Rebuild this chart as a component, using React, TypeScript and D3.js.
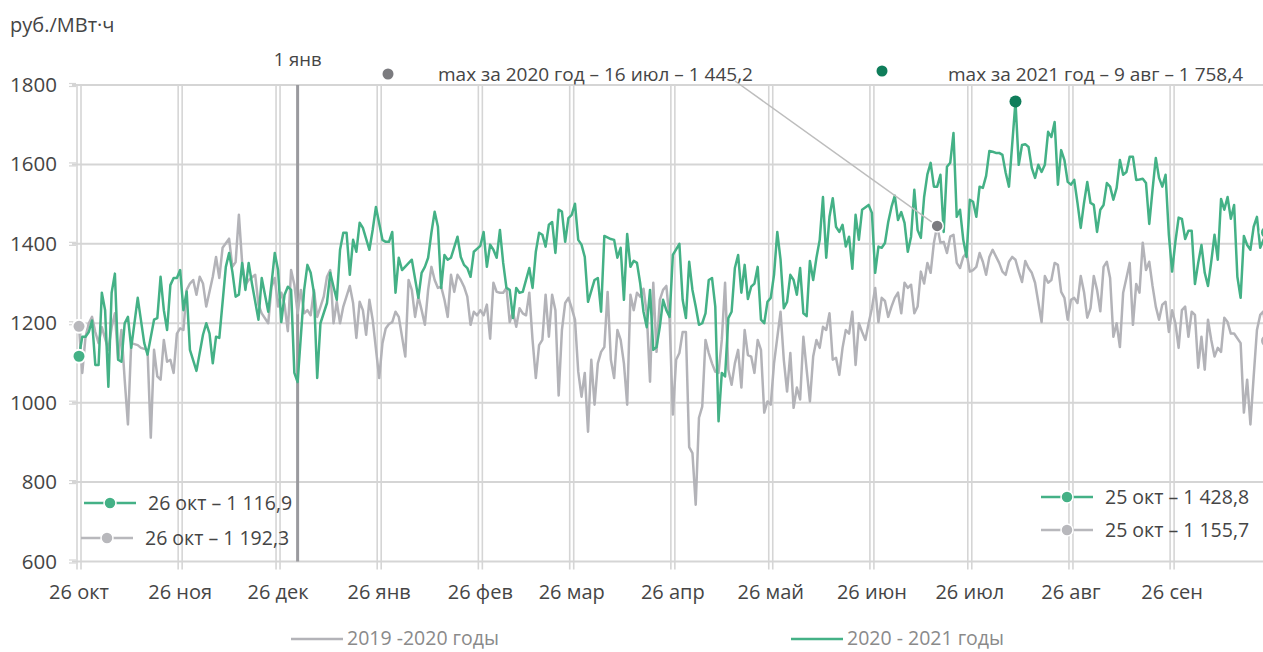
import * as d3 from "d3";

// ── data: day offset from 26 окт 2020, price руб./МВт·ч ──
const monthLabels = ["26 окт", "26 ноя", "26 дек", "26 янв", "26 фев", "26 мар", "26 апр", "26 май", "26 июн", "26 июл", "26 авг", "26 сен"];
const yTicks = [600, 800, 1000, 1200, 1400, 1600, 1800];

// 2020 - 2021 годы
const green: [number, number][] = [
  [0, 1116.9], [1, 1166], [2, 1166], [3, 1178], [4, 1207], [5, 1095], [6, 1095], [7, 1277], [8, 1233], [9, 1040],
  [10, 1277], [11, 1325], [12, 1108], [13, 1103], [14, 1200], [15, 1216], [16, 1138], [18, 1264], [20, 1150], [21, 1121],
  [23, 1209], [24, 1213], [25, 1317], [26, 1233], [27, 1183], [28, 1296], [29, 1314], [30, 1314], [31, 1334], [32, 1233],
  [33, 1280], [34, 1133], [36, 1080], [38, 1171], [39, 1200], [40, 1174], [41, 1099], [42, 1166], [43, 1163], [45, 1342],
  [46, 1377], [47, 1330], [48, 1267], [49, 1272], [50, 1352], [51, 1284], [52, 1352], [53, 1300], [55, 1209], [56, 1314],
  [58, 1229], [59, 1300], [60, 1377], [61, 1334], [62, 1203], [63, 1272], [64, 1292], [65, 1284], [66, 1075], [67, 1052],
  [69, 1284], [70, 1347], [71, 1327], [72, 1277], [73, 1062], [74, 1200], [76, 1251], [77, 1327], [78, 1292], [79, 1259],
  [80, 1385], [81, 1428], [82, 1428], [83, 1322], [84, 1410], [85, 1380], [86, 1453], [87, 1440], [89, 1385], [90, 1435],
  [91, 1493], [93, 1410], [94, 1405], [95, 1405], [96, 1430], [97, 1277], [98, 1365], [99, 1334], [102, 1360], [104, 1264],
  [105, 1327], [106, 1342], [107, 1365], [108, 1428], [109, 1481], [110, 1443], [111, 1289], [112, 1372], [113, 1360], [114, 1365],
  [116, 1418], [117, 1367], [118, 1347], [119, 1339], [120, 1317], [121, 1380], [123, 1395], [124, 1430], [125, 1342], [126, 1398],
  [127, 1385], [128, 1365], [129, 1435], [130, 1352], [131, 1289], [132, 1284], [133, 1213], [134, 1289], [135, 1277], [136, 1279],
  [138, 1339], [139, 1289], [140, 1380], [141, 1428], [142, 1423], [143, 1393], [144, 1448], [145, 1455], [146, 1377], [147, 1486],
  [148, 1481], [149, 1405], [150, 1465], [151, 1473], [152, 1501], [153, 1410], [154, 1398], [155, 1367], [156, 1254], [158, 1309],
  [159, 1314], [160, 1229], [161, 1420], [163, 1412], [164, 1410], [165, 1365], [166, 1390], [167, 1259], [168, 1425], [169, 1342],
  [170, 1357], [171, 1352], [172, 1300], [173, 1229], [174, 1190], [175, 1284], [176, 1133], [177, 1140], [178, 1191], [179, 1259],
  [180, 1233], [181, 1216], [182, 1372], [184, 1400], [185, 1259], [186, 1213], [187, 1355], [188, 1284], [189, 1242], [190, 1196],
  [191, 1200], [192, 1225], [193, 1309], [194, 1314], [195, 1242], [196, 953], [197, 1075], [198, 1066], [199, 1213], [200, 1229],
  [201, 1339], [202, 1372], [203, 1277], [204, 1347], [205, 1261], [206, 1292], [207, 1300], [208, 1342], [209, 1209], [210, 1200],
  [211, 1254], [212, 1264], [213, 1322], [214, 1430], [215, 1360], [216, 1238], [217, 1254], [218, 1322], [219, 1309], [220, 1272],
  [221, 1339], [222, 1225], [223, 1218], [224, 1357], [225, 1309], [226, 1365], [227, 1410], [228, 1518], [229, 1365], [230, 1468],
  [231, 1515], [232, 1443], [233, 1430], [234, 1448], [235, 1393], [236, 1418], [237, 1337], [238, 1473], [239, 1410], [240, 1486],
  [242, 1498], [243, 1478], [244, 1327], [245, 1393], [246, 1390], [247, 1402], [248, 1455], [249, 1493], [250, 1521], [251, 1460],
  [252, 1480], [253, 1453], [254, 1380], [255, 1418], [256, 1536], [257, 1435], [258, 1415], [259, 1518], [260, 1575], [261, 1604],
  [262, 1544], [263, 1544], [264, 1574], [265, 1430], [266, 1594], [267, 1604], [268, 1679], [269, 1468], [270, 1486], [271, 1410],
  [272, 1367], [273, 1511], [274, 1506], [275, 1468], [276, 1544], [277, 1541], [278, 1571], [279, 1634], [280, 1632], [281, 1629],
  [282, 1629], [283, 1624], [284, 1579], [285, 1544], [287, 1758.4], [288, 1599], [289, 1649], [290, 1651], [291, 1644], [292, 1591],
  [293, 1566], [294, 1599], [295, 1581], [296, 1599], [297, 1682], [298, 1669], [299, 1707], [300, 1549], [301, 1636], [302, 1611],
  [303, 1556], [304, 1549], [305, 1561], [306, 1503], [307, 1440], [308, 1503], [309, 1556], [310, 1503], [311, 1498], [312, 1430],
  [313, 1486], [314, 1498], [315, 1553], [316, 1544], [317, 1511], [318, 1541], [319, 1611], [320, 1574], [321, 1581], [322, 1619],
  [323, 1619], [324, 1561], [325, 1562], [326, 1564], [327, 1553], [328, 1450], [329, 1536], [330, 1616], [331, 1566], [332, 1544],
  [333, 1574], [334, 1423], [335, 1330], [336, 1405], [337, 1466], [338, 1463], [339, 1412], [340, 1433], [341, 1433], [342, 1299],
  [343, 1352], [344, 1397], [345, 1327], [346, 1294], [347, 1355], [348, 1423], [349, 1360], [350, 1513], [351, 1486], [352, 1518],
  [353, 1463], [354, 1498], [355, 1317], [356, 1264], [357, 1420], [358, 1397], [359, 1385], [360, 1443], [361, 1468], [362, 1390],
  [363, 1410], [364, 1428.8],
];

// 2019 -2020 годы
const gray: [number, number][] = [
  [0, 1192.3], [1, 1075], [2, 1166], [3, 1200], [4, 1216], [5, 1178], [6, 1150], [7, 1190], [9, 1133], [10, 1190],
  [11, 1225], [12, 1108], [13, 1183], [14, 1058], [15, 945], [16, 1150], [18, 1145], [19, 1138], [21, 1133], [22, 912],
  [23, 1133], [24, 1066], [25, 1058], [26, 1158], [27, 1103], [28, 1108], [29, 1075], [30, 1174], [31, 1187], [32, 1183],
  [33, 1284], [34, 1300], [35, 1309], [36, 1272], [37, 1317], [38, 1300], [39, 1242], [41, 1317], [42, 1367], [43, 1314],
  [44, 1390], [46, 1413], [47, 1342], [48, 1354], [49, 1473], [50, 1352], [51, 1297], [52, 1309], [54, 1322], [55, 1247],
  [56, 1225], [58, 1200], [59, 1292], [60, 1314], [61, 1242], [62, 1277], [63, 1247], [64, 1180], [65, 1334], [66, 1297],
  [67, 1225], [68, 1284], [69, 1225], [70, 1233], [71, 1220], [72, 1284], [73, 1216], [75, 1267], [76, 1317], [77, 1334],
  [78, 1200], [79, 1254], [80, 1200], [81, 1242], [83, 1294], [84, 1251], [85, 1163], [86, 1254], [87, 1233], [88, 1171],
  [89, 1259], [90, 1209], [92, 1062], [93, 1150], [94, 1187], [95, 1198], [96, 1203], [97, 1229], [98, 1216], [100, 1116],
  [101, 1309], [102, 1284], [103, 1216], [104, 1267], [105, 1233], [106, 1196], [107, 1284], [108, 1342], [109, 1309], [110, 1289],
  [111, 1292], [112, 1259], [113, 1216], [114, 1322], [115, 1279], [116, 1322], [117, 1309], [118, 1292], [119, 1267], [120, 1196],
  [121, 1229], [122, 1220], [123, 1233], [124, 1220], [125, 1247], [126, 1161], [127, 1302], [128, 1279], [129, 1277], [130, 1277],
  [131, 1289], [132, 1203], [133, 1229], [134, 1191], [135, 1238], [136, 1225], [137, 1220], [138, 1277], [139, 1158], [140, 1062],
  [141, 1145], [142, 1158], [143, 1272], [144, 1166], [145, 1272], [146, 1233], [147, 1018], [148, 1183], [149, 1251], [150, 1264],
  [151, 1238], [152, 1209], [153, 1078], [154, 1015], [155, 1075], [156, 927], [157, 1108], [158, 995], [159, 1099], [160, 1128],
  [161, 1140], [162, 1279], [163, 1108], [164, 1062], [165, 1183], [166, 1158], [167, 1099], [168, 995], [169, 1272], [170, 1233],
  [171, 1277], [172, 1267], [173, 1287], [174, 1225], [175, 1053], [176, 1302], [177, 1128], [178, 1259], [179, 1284], [180, 1294],
  [181, 1209], [182, 970], [183, 1108], [184, 1125], [185, 1178], [186, 1178], [187, 888], [188, 873], [189, 743], [190, 962],
  [191, 990], [192, 1158], [193, 1125], [194, 1099], [195, 1078], [196, 1075], [197, 1158], [198, 1302], [199, 1083], [200, 1045],
  [201, 1099], [202, 1133], [203, 1038], [204, 1183], [205, 1120], [206, 1116], [207, 1075], [208, 1158], [209, 1133], [210, 975],
  [211, 1003], [212, 995], [213, 1099], [215, 1229], [216, 1108], [217, 1028], [218, 1125], [219, 987], [220, 1038], [221, 1008],
  [222, 1166], [223, 1083], [224, 1003], [225, 1116], [226, 1158], [227, 1138], [228, 1191], [229, 1183], [230, 1225], [231, 1108],
  [232, 1113], [233, 1070], [234, 1138], [235, 1183], [236, 1174], [237, 1229], [238, 1095], [239, 1200], [240, 1178], [241, 1158],
  [242, 1200], [243, 1238], [244, 1289], [245, 1203], [246, 1264], [247, 1256], [248, 1216], [249, 1242], [250, 1264], [251, 1277],
  [252, 1225], [253, 1302], [254, 1289], [255, 1297], [256, 1225], [257, 1242], [258, 1330], [259, 1300], [260, 1352], [261, 1327],
  [262, 1403], [263, 1445.2], [264, 1403], [265, 1405], [266, 1377], [267, 1418], [268, 1423], [269, 1352], [270, 1339], [271, 1367],
  [272, 1377], [273, 1330], [274, 1334], [275, 1342], [276, 1377], [277, 1355], [278, 1322], [279, 1367], [280, 1385], [282, 1352],
  [283, 1330], [284, 1322], [285, 1355], [286, 1367], [287, 1360], [288, 1330], [289, 1304], [290, 1357], [291, 1339], [292, 1327],
  [293, 1302], [295, 1203], [296, 1319], [297, 1302], [298, 1309], [299, 1352], [300, 1347], [301, 1279], [302, 1264], [303, 1209],
  [304, 1259], [305, 1264], [306, 1251], [307, 1319], [308, 1279], [309, 1214], [310, 1238], [311, 1319], [312, 1284], [313, 1230],
  [314, 1342], [315, 1355], [316, 1314], [317, 1166], [318, 1200], [319, 1140], [320, 1277], [321, 1314], [322, 1352], [323, 1196],
  [324, 1299], [325, 1277], [326, 1403], [327, 1334], [328, 1355], [329, 1294], [330, 1242], [331, 1209], [332, 1247], [333, 1254],
  [334, 1178], [335, 1233], [336, 1200], [337, 1138], [338, 1233], [339, 1242], [340, 1166], [341, 1229], [342, 1221], [343, 1088],
  [344, 1166], [345, 1083], [346, 1209], [347, 1158], [348, 1116], [349, 1138], [350, 1128], [351, 1214], [352, 1203], [353, 1174],
  [354, 1174], [356, 1150], [357, 975], [358, 1058], [359, 945], [360, 1066], [361, 1183], [362, 1221], [363, 1230], [364, 1155.7],
];

const max2020: [number, number] = [263, 1445.2];
const max2021: [number, number] = [287, 1758.4];
const jan1Day = 67;

// ── layout ──
const W = 1263;
const H = 652;
const FONT = "'Open Sans', 'Noto Sans', sans-serif";
const GREEN = "#44b186";
const GRAY = "#b3b3b8";
const GRID = "#d5d5d5";
const TEXT = "#454545";

const start = Date.UTC(2020, 9, 26);
const dayDate = (d: number) => d3.utcDay.offset(new Date(start), d);

const x = d3.scaleUtc()
  .domain([dayDate(0), dayDate(364)])
  .range([79, 79 + 364 * 3.263]);
const y = d3.scaleLinear().domain([600, 1800]).range([561.5, 85]);

const line = d3.line<[number, number]>()
  .x(d => x(dayDate(d[0])))
  .y(d => y(d[1]));

const tickDates = monthLabels.map((_, i) => new Date(Date.UTC(2020, 9 + i, 26)));

function LegendMark({ cx, cy, color }: { cx: number; cy: number; color: string }) {
  return (
    <g>
      <line x1={cx - 26} x2={cx + 26} y1={cy} y2={cy} stroke={color} strokeWidth={2.5} />
      <circle cx={cx} cy={cy} r={6} fill={color} stroke="#fff" strokeWidth={1.5} />
    </g>
  );
}

export default function App() {
  const x0 = x.range()[0];
  const gx = (d: number) => x(dayDate(d));
  return (
    <>
      <style>{"body{margin:0}"}</style>
      <svg width={W} height={H} style={{ display: "block", background: "#fff" }} fontFamily={FONT}>
        <defs>
          <clipPath id="plot">
            <rect x={0} y={0} width={W} height={H} />
          </clipPath>
        </defs>

        {/* unit */}
        <text x={10} y={32} fontSize={20} fill={TEXT}>руб./МВт·ч</text>

        {/* horizontal grid + y labels */}
        {yTicks.map(t => (
          <g key={t}>
            <line x1={72} x2={W} y1={y(t)} y2={y(t)} stroke={GRID} strokeWidth={2} />
            <line x1={69} x2={76} y1={y(t) - 1.5} y2={y(t) - 1.5} stroke={GRID} strokeWidth={1.2} />
            <line x1={69} x2={76} y1={y(t) + 1.5} y2={y(t) + 1.5} stroke={GRID} strokeWidth={1.2} />
            <text x={57} y={y(t) + 7} textAnchor="end" fontSize={20.5} fill={TEXT}>{t}</text>
          </g>
        ))}

        {/* vertical grid (double lines) + x labels */}
        {tickDates.map((d, i) => (
          <g key={i}>
            <line x1={x(d) - 2} x2={x(d) - 2} y1={y(1800)} y2={y(600) + 8} stroke={GRID} strokeWidth={1.6} />
            <line x1={x(d) + 2} x2={x(d) + 2} y1={y(1800)} y2={y(600) + 8} stroke={GRID} strokeWidth={1.6} />
            <text x={x(d)} y={599} textAnchor="middle" fontSize={20} fill={TEXT}>{monthLabels[i]}</text>
          </g>
        ))}

        {/* 1 янв marker */}
        <line x1={gx(jan1Day)} x2={gx(jan1Day)} y1={y(1800)} y2={y(600)} stroke="#9a9a9e" strokeWidth={3} />
        <text x={gx(jan1Day)} y={66} textAnchor="middle" fontSize={18.5} fill={TEXT}>1 янв</text>

        {/* series */}
        <g clipPath="url(#plot)">
          <path d={line(gray) ?? ""} fill="none" stroke={GRAY} strokeWidth={2.5} strokeLinejoin="round" />
          <path d={line(green) ?? ""} fill="none" stroke={GREEN} strokeWidth={2.5} strokeLinejoin="round" />
          <circle cx={gx(gray[gray.length - 1][0])} cy={y(gray[gray.length - 1][1])} r={6.5} fill={GRAY} stroke="#fff" strokeWidth={1.5} />
          <circle cx={gx(green[green.length - 1][0])} cy={y(green[green.length - 1][1])} r={6.5} fill={GREEN} stroke="#fff" strokeWidth={1.5} />
        </g>
        <circle cx={x0} cy={y(gray[0][1])} r={6.5} fill="#b8b8bc" stroke="#fff" strokeWidth={2} />
        <circle cx={x0} cy={y(green[0][1])} r={6.5} fill={GREEN} stroke="#fff" strokeWidth={2} />

        {/* max annotations */}
        <line x1={735} y1={81} x2={gx(max2020[0])} y2={y(max2020[1])} stroke="#bdbdbd" strokeWidth={1.5} />
        <circle cx={gx(max2020[0])} cy={y(max2020[1])} r={6} fill="#7b7b7f" stroke="#fff" strokeWidth={1.5} />
        <circle cx={388} cy={74} r={5.5} fill="#7b7b7f" />
        <text x={438} y={81} fontSize={19} fill={TEXT}>max за 2020 год – 16 июл – 1 445,2</text>

        <circle cx={gx(max2021[0])} cy={y(max2021[1])} r={6} fill="#0f7d5a" />
        <circle cx={882} cy={71} r={5.5} fill="#0f7d5a" />
        <text x={948} y={81} fontSize={19} fill={TEXT}>max за 2021 год – 9 авг – 1 758,4</text>

        {/* start / end legends */}
        <LegendMark cx={110} cy={503} color={GREEN} />
        <text x={148} y={510} fontSize={19.5} fill={TEXT}>26 окт – 1 116,9</text>
        <LegendMark cx={107} cy={538} color="#b8b8bc" />
        <text x={145} y={545} fontSize={19.5} fill={TEXT}>26 окт – 1 192,3</text>

        <LegendMark cx={1067} cy={497} color={GREEN} />
        <text x={1105} y={504} fontSize={19.5} fill={TEXT}>25 окт – 1 428,8</text>
        <LegendMark cx={1067} cy={530} color="#b8b8bc" />
        <text x={1105} y={537} fontSize={19.5} fill={TEXT}>25 окт – 1 155,7</text>

        {/* series legend */}
        <line x1={291} x2={343} y1={639} y2={639} stroke={GRAY} strokeWidth={2.5} />
        <text x={347} y={645} fontSize={19.5} fill="#8a8a8a">2019 -2020 годы</text>
        <line x1={791} x2={843} y1={639} y2={639} stroke={GREEN} strokeWidth={2.5} />
        <text x={847} y={645} fontSize={19.5} fill="#8a8a8a">2020 - 2021 годы</text>
      </svg>
    </>
  );
}
